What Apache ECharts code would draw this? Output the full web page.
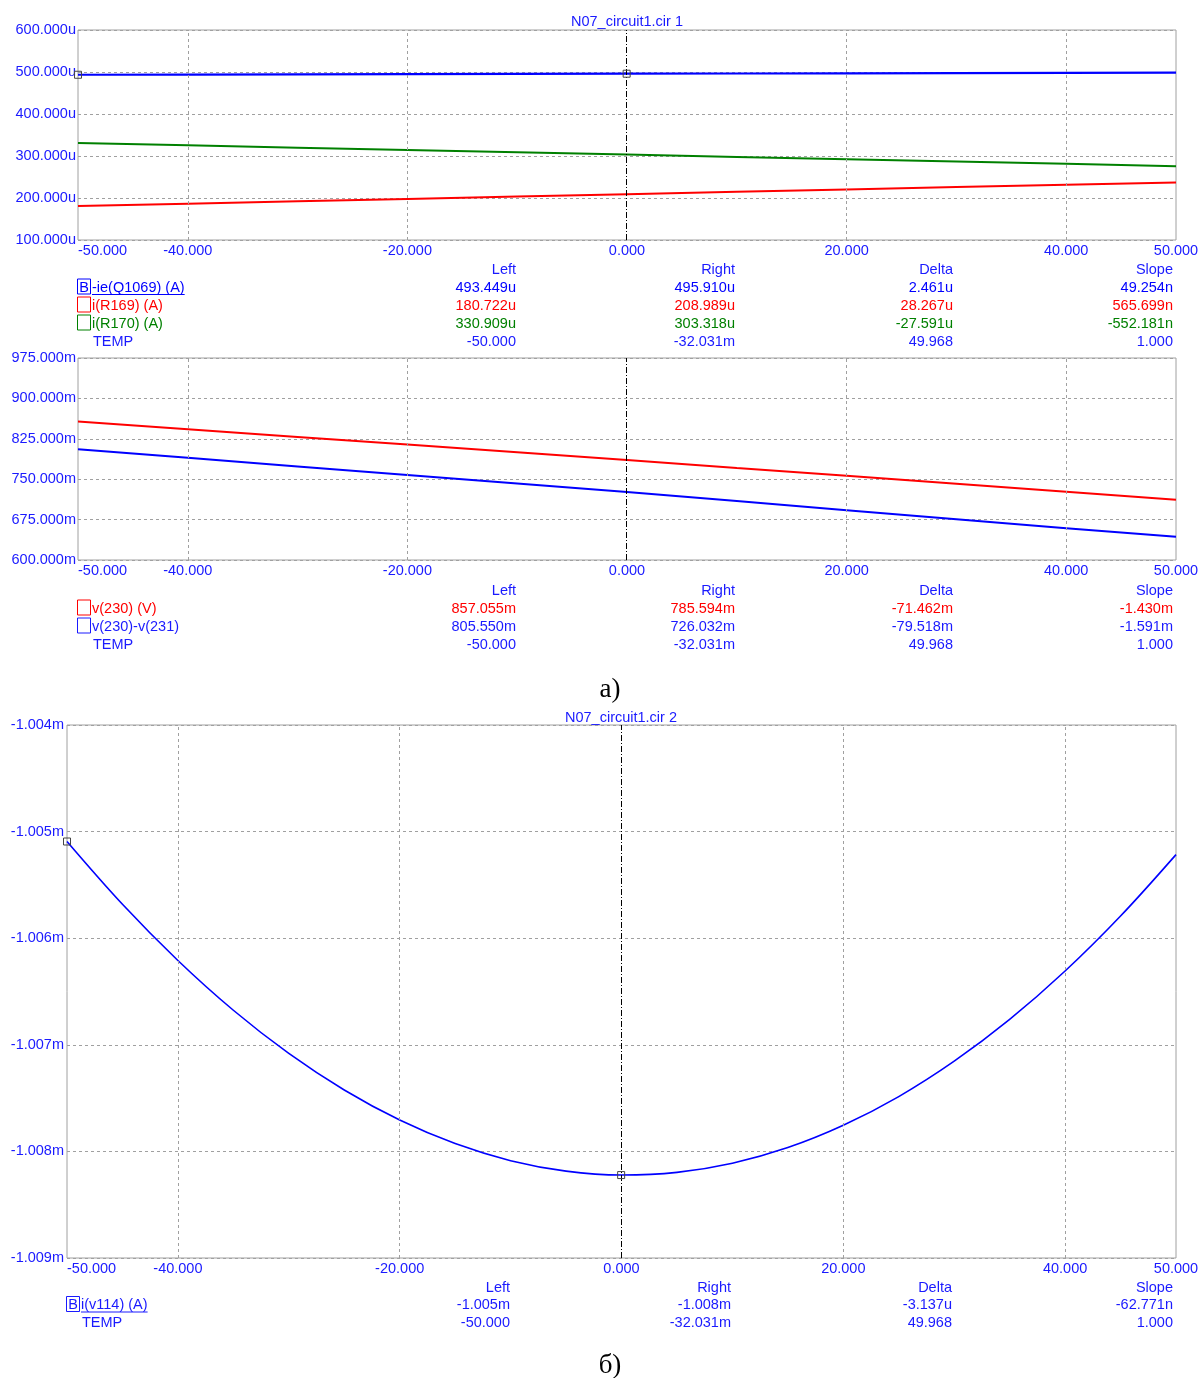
<!DOCTYPE html>
<html><head><meta charset="utf-8">
<script src="https://cdn.jsdelivr.net/npm/echarts@6/dist/echarts.min.js"></script>
<style>html,body{margin:0;padding:0;background:#fff}#c{width:1201px;height:1378px}</style>
</head><body><div id="c"></div>
<script>
// ---------- data ----------
const temps = [-50, -40, -30, -20, -10, 0, 10, 20, 30, 40, 50];
// plot 1 (uA)
const ieQ1069 = [493.449, 493.94, 494.43, 494.92, 495.42, 495.91, 496.40, 496.89, 497.38, 497.88, 498.37];
const iR169   = [180.722, 186.38, 192.03, 197.69, 203.35, 208.99, 214.6, 220.3, 225.9, 231.6, 237.2];
const iR170   = [330.909, 325.39, 319.87, 314.35, 308.83, 303.32, 297.8, 292.3, 286.8, 281.3, 275.8];
// plot 2 (mV)
const v230     = [857.055, 842.8, 828.5, 814.2, 799.9, 785.594, 771.0, 756.5, 741.5, 726.5, 712.0];
const v230_231 = [805.550, 789.6, 773.7, 757.8, 741.9, 726.032, 709.5, 692.5, 675.5, 659.0, 643.0];
// plot 3 (uA)
const temps3 = [-50, -45, -40, -35, -30, -25, -20, -15, -10, -5, 0, 5, 10, 15, 20, 25, 30, 35, 40, 45, 50];
const iV114  = [-1005.093, -1005.682, -1006.209, -1006.676, -1007.081, -1007.424, -1007.706, -1007.927,
                -1008.087, -1008.185, -1008.222, -1008.197, -1008.111, -1007.964, -1007.755, -1007.486,
                -1007.154, -1006.762, -1006.308, -1005.792, -1005.216];

const xLabelTemps = [-50, -40, -20, 0, 20, 40, 50];
const vGridTemps = [-40, -20, 20, 40];
const cursorRight = -0.032;
const cursorLeft = -50;

const titles = ['N07_circuit1.cir 1', 'N07_circuit1.cir 2'];
const captions = ['а)', 'б)'];
const colHeaders = ['Left', 'Right', 'Delta', 'Slope'];

const t1Names = ['-ie(Q1069) (A)', 'i(R169) (A)', 'i(R170) (A)', 'TEMP'];
const t1Vals = [
  ['493.449u', '495.910u', '2.461u', '49.254n'],
  ['180.722u', '208.989u', '28.267u', '565.699n'],
  ['330.909u', '303.318u', '-27.591u', '-552.181n'],
  ['-50.000', '-32.031m', '49.968', '1.000']
];
const t2Names = ['v(230) (V)', 'v(230)-v(231)', 'TEMP'];
const t2Vals = [
  ['857.055m', '785.594m', '-71.462m', '-1.430m'],
  ['805.550m', '726.032m', '-79.518m', '-1.591m'],
  ['-50.000', '-32.031m', '49.968', '1.000']
];
const t3Names = ['i(v114) (A)', 'TEMP'];
const t3Vals = [
  ['-1.005m', '-1.008m', '-3.137u', '-62.771n'],
  ['-50.000', '-32.031m', '49.968', '1.000']
];

// ---------- styling ----------
const BLUE = '#0000ff', RED = '#ff0000', GREEN = '#008000', TXT = '#1a1aff';
const FONT = 'Liberation Sans, Arial, sans-serif';
const FS = 14.5;
const GRIDC = '#a0a0a0';

function zip(xs, ys) { return xs.map((x, i) => [x, ys[i]]); }

const chart = echarts.init(document.getElementById('c'), null, {renderer: 'canvas'});

const grids = [
  {left: 78, top: 30, width: 1098, height: 210},
  {left: 78, top: 358, width: 1098, height: 202},
  {left: 67, top: 725, width: 1109, height: 533}
].map(g => Object.assign({show: true, borderColor: GRIDC, borderWidth: 1, containLabel: false, outerBoundsMode: 'none', backgroundColor: 'transparent'}, g));

function xAx(i, margin) {
  return {
    type: 'value', gridIndex: i, min: -50, max: 50, interval: 10,
    axisLine: {show: false}, axisTick: {show: false}, splitLine: {show: false},
    axisLabel: {customValues: xLabelTemps, formatter: v => v.toFixed(3), alignMinLabel: 'left',
      color: TXT, fontSize: FS, fontFamily: FONT, margin: margin}
  };
}
function yAx(i, min, max, interval, fmt, margin) {
  return {
    type: 'value', gridIndex: i, min, max, interval,
    axisLine: {show: false}, axisTick: {show: false},
    splitLine: {show: true, lineStyle: {color: GRIDC, type: [3, 3], width: 1}},
    axisLabel: {formatter: fmt, color: TXT, fontSize: FS, fontFamily: FONT, margin: margin}
  };
}

function gridMarks() {
  return {
    silent: true, symbol: ['none', 'none'], label: {show: false}, animation: false,
    data: vGridTemps.map(t => ({xAxis: t, lineStyle: {color: GRIDC, type: [3, 3], width: 1}}))
      .concat([{xAxis: cursorRight, lineStyle: {color: '#000', type: [6, 2, 1, 2], width: 1}}])
  };
}
function cursorPoints(xs, ys) {
  return {
    silent: true, symbol: 'rect', symbolSize: 7, animation: false, label: {show: false},
    itemStyle: {color: 'rgba(255,255,255,0)', borderColor: '#444', borderWidth: 1},
    data: xs.map((x, i) => ({coord: [x, ys[i]]}))
  };
}

function lineSeries(name, xi, data, color, width, extra) {
  return Object.assign({
    name, type: 'line', xAxisIndex: xi, yAxisIndex: xi, data, showSymbol: false, symbol: 'none',
    lineStyle: {color, width}, itemStyle: {color}, animation: false, silent: true, clip: true
  }, extra || {});
}

const series = [
  lineSeries('i(R169)', 0, zip(temps, iR169), RED, 2, {markLine: gridMarks()}),
  lineSeries('i(R170)', 0, zip(temps, iR170), GREEN, 2),
  lineSeries('-ie(Q1069)', 0, zip(temps, ieQ1069), BLUE, 2.2,
    {markPoint: cursorPoints([cursorLeft, cursorRight], [493.449, 495.910])}),
  lineSeries('v(230)', 1, zip(temps, v230), RED, 2, {markLine: gridMarks()}),
  lineSeries('v(230)-v(231)', 1, zip(temps, v230_231), BLUE, 2),
  lineSeries('i(v114)', 2, zip(temps3, iV114), BLUE, 1.6,
    {smooth: 0.35, markLine: gridMarks(), markPoint: cursorPoints([cursorLeft, cursorRight], [-1005.093, -1008.222])})
];

// ---------- graphic texts ----------
const mctx = document.createElement('canvas').getContext('2d');
function textW(s, font) { mctx.font = font; return mctx.measureText(s).width; }
const FONTSTR = FS + 'px ' + FONT;
const DY = 1.5;

const g = [];
function txt(x, y, s, color, align, font) {
  g.push({type: 'text', x, y: y + DY, silent: true,
    style: {text: s, fill: color, font: font || FONTSTR, align: align || 'left', verticalAlign: 'middle'}});
}
function box(x, y, w, h, color, letter) {
  g.push({type: 'rect', silent: true, shape: {x: x + 0.5, y: y + 0.5, width: w, height: h},
    style: {fill: 'none', stroke: color, lineWidth: 1}});
  if (letter) txt(x + w / 2 + 0.5, y + h / 2, letter, color, 'center');
}
function underline(x, y, s, color) {
  const w = textW(s, FONTSTR);
  g.push({type: 'line', silent: true, shape: {x1: x, y1: y + 0.5, x2: x + w, y2: y + 0.5},
    style: {stroke: color, lineWidth: 1}});
}

function table(cfg) {
  colHeaders.forEach((h, j) => txt(cfg.cols[j], cfg.headerY, h, TXT, 'right'));
  cfg.names.forEach((n, i) => {
    const y = cfg.headerY + cfg.step * (i + 1);
    const color = cfg.colors[i];
    const isTemp = n === 'TEMP';
    if (!isTemp) {
      box(cfg.boxX, y - 7.5, 13, 15, color, cfg.selected === i ? 'B' : null);
      if (cfg.selected === i) underline(cfg.nameX, y + 8, n, color);
    }
    txt(isTemp ? cfg.nameX + 1 : cfg.nameX, y, n, color, 'left');
    cfg.vals[i].forEach((v, j) => txt(cfg.cols[j], y, v, color, 'right'));
  });
}

txt(627, 20, titles[0], TXT, 'center');
txt(621, 716, titles[1], TXT, 'center');

table({headerY: 268, step: 18, cols: [516, 735, 953, 1173], boxX: 77, nameX: 92,
  names: t1Names, vals: t1Vals, colors: [BLUE, RED, GREEN, TXT], selected: 0});
table({headerY: 589, step: 18, cols: [516, 735, 953, 1173], boxX: 77, nameX: 92,
  names: t2Names, vals: t2Vals, colors: [RED, TXT, TXT], selected: -1});
table({headerY: 1286, step: 17.5, cols: [510, 731, 952, 1173], boxX: 66, nameX: 81,
  names: t3Names, vals: t3Vals, colors: [TXT, TXT], selected: 0});

txt(610, 688, captions[0], '#000', 'center', '27px "Liberation Serif", "Times New Roman", serif');
txt(610, 1364, captions[1], '#000', 'center', '27px "Liberation Serif", "Times New Roman", serif');

chart.setOption({
  animation: false,
  backgroundColor: '#ffffff',
  grid: grids,
  xAxis: [xAx(0, 3), xAx(1, 3), xAx(2, 3)],
  yAxis: [
    yAx(0, 100, 600, 100, v => v.toFixed(3) + 'u', 2),
    yAx(1, 600, 975, 75, v => v.toFixed(3) + 'm', 2),
    yAx(2, -1009, -1004, 1, v => (v / 1000).toFixed(3) + 'm', 3)
  ],
  series,
  graphic: {elements: g}
});
</script></body></html>
